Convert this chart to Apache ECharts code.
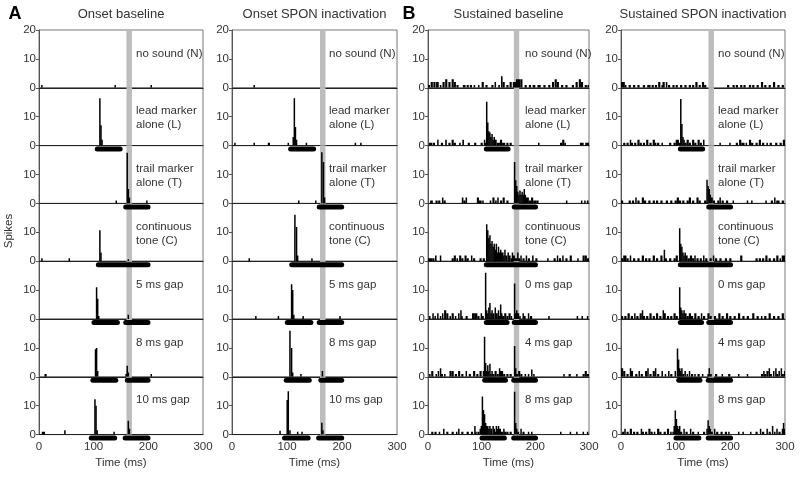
<!DOCTYPE html>
<html>
<head>
<meta charset="utf-8">
<script src="https://cdn.jsdelivr.net/npm/echarts@6/dist/echarts.min.js"></script>
<style>
html, body { margin: 0; padding: 0; background: #fff; }
#chart { width: 800px; height: 477px; }
</style>
</head>
<body>
<div id="chart"></div>
<script>
// histogram bins: [start ms, end ms, spikes], one array per row (N, L, T, C, gap rows)
const onsetBaseline = [
  [[4,6,1],[138,140,1],[204,206,1]],
  [[110,112,16.4],[112,114,7],[114,116,2]],
  [[140,142,1],[160,162,17.5],[162,164,5],[164,166,2],[196,198,1]],
  [[4,6,1],[54,56,1],[110,112,10.7],[112,114,3],[162,164,0.7]],
  [[104,106,11],[106,108,7],[108,110,1],[162,164,1.5]],
  [[10,14,1],[102,104,9.5],[104,106,10],[106,108,2],[158,160,1],[160,162,3.8],[162,164,1.5],[204,206,1]],
  [[5,11,1],[46,48,1.5],[101,103,12.2],[103,105,10],[105,107,1.5],[136,138,1],[162,164,4.8],[164,166,2]]
];
const onsetSpon = [
  [[39,41,1]],
  [[4,6,1],[39,41,1],[65,69,1],[101,103,1],[110,112,3],[112,114,16.4],[114,116,6.4],[116,118,2],[134,136,1],[223,225,1],[233,235,1]],
  [[120,122,1],[151,153,1],[162,164,17.7],[165,167,14.3],[167,169,2]],
  [[30,32,1],[113,115,16.1],[116,118,11.8],[118,120,2],[144,146,1]],
  [[42,44,1],[83,85,1],[107,109,12],[109,111,10],[111,113,1.5],[128,130,1],[195,197,1]],
  [[104,106,15.9],[107,109,10],[109,111,1.5],[124,126,1],[163,165,2]],
  [[86,88,1.3],[99,101,12],[101,103,15],[104,106,1.5],[118,120,1],[126,128,1],[162,164,4.1],[164,166,1.5]]
];
const sustainedBaseline = [
  [[0,4,1],[5,9,2],[10,14,2],[15,20,2],[22,25,1],[27,31,2],[32,36,3],[38,42,2],[44,48,3],[48,52,2],[53,57,1],[65,70,1],[72,76,1],[78,82,1],[85,88,1],[93,96,1],[100,104,2],[107,111,1],[118,122,1],[124,126,2],[131,134,1],[136,139,4],[139,143,2],[146,150,1],[152,156,2],[158,164,2],[164,172,3],[172,176,3],[180,184,1],[188,192,1],[195,200,1],[204,210,1],[215,219,1],[224,228,1],[231,235,2],[236,240,3],[240,244,2],[248,252,1],[256,260,1],[268,272,1],[275,279,2],[281,285,3],[285,289,2],[292,296,1],[297,300,1]],
  [[2,8,1],[9,13,1],[17,19,2],[24,28,1],[32,35,2],[38,42,1],[44,48,2],[48,52,1],[58,61,1],[64,67,2],[74,78,1],[86,90,1],[98,102,1],[104,106,2],[106,108,1],[108,110,15.2],[110,112,8],[112,114,5],[114,116,4.5],[116,118,3],[118,120,4],[120,122,2],[122,124,3],[124,128,2],[128,134,1],[134,138,2],[138,144,1],[146,150,1],[152,156,1],[205,207,1],[246,250,1],[250,254,2],[254,257,1],[283,290,1],[293,300,1]],
  [[4,9,1],[14,18,1],[19,23,1],[26,28,2],[29,33,1],[63,66,2],[66,70,1],[70,72,2],[91,95,2],[95,100,1],[101,103,1],[115,118,1],[120,124,2],[125,128,1],[129,131,2],[134,138,1],[139,143,2],[146,150,1],[160,162,14.3],[162,164,8],[164,166,6],[166,168,4],[168,170,3],[170,172,4.5],[172,174,3],[174,176,4],[176,178,3],[178,180,5],[180,182,3],[182,184,2],[184,188,2],[188,192,1],[192,196,2],[196,202,1],[202,206,1],[257,259,1],[285,287,1],[291,293,1],[296,299,1]],
  [[0,8,1],[8,12,1],[13,16,2],[22,24,2],[44,48,1],[48,52,2],[53,56,1],[58,62,2],[62,66,1],[68,72,2],[72,76,1],[80,82,2],[84,88,1],[96,100,1],[102,106,1],[108,110,12.8],[110,112,10.7],[112,114,8],[114,116,9],[116,118,6],[118,120,7],[120,122,5],[122,124,6],[124,126,4],[126,128,6],[128,130,3],[130,132,5],[132,134,3],[134,136,4],[136,138,3],[138,140,3],[140,142,2],[142,144,4],[144,148,2],[148,150,3],[150,154,2],[154,156,1],[156,158,3],[158,162,2],[162,166,1],[166,168,3],[168,172,1],[172,174,2],[176,180,1],[182,184,2],[186,190,1],[194,196,2],[200,204,1],[222,224,1],[234,238,1],[240,242,2],[244,248,1],[250,252,2],[256,260,1],[264,268,2],[278,280,1],[288,292,2],[292,296,2],[296,300,1]],
  [[2,4,1],[8,10,2],[12,14,1],[17,19,2],[22,24,1],[26,28,2],[30,34,3],[34,38,2],[40,42,1],[44,48,2],[50,52,1],[56,58,2],[60,62,3],[62,64,1],[70,74,1],[82,86,2],[86,92,2],[92,96,1],[98,100,2],[100,104,1],[106,108,16],[108,110,3],[110,112,2],[112,114,4],[114,116,5.5],[116,118,2],[118,120,3],[120,124,2],[124,126,4],[126,130,2],[130,132,3],[132,134,1],[134,136,5],[136,138,2],[138,142,1],[142,146,2],[146,150,1],[150,154,2],[154,156,1],[160,162,12.3],[162,164,2],[164,166,3],[166,170,2],[170,172,1],[176,178,2],[178,182,1],[186,188,2],[190,194,1],[224,226,1],[277,279,1],[286,288,1],[296,298,1]],
  [[2,4,1],[6,10,2],[14,16,1],[18,20,2],[22,24,3],[24,28,1],[30,32,1],[40,44,2],[44,48,2],[50,54,1],[56,60,2],[62,66,1],[70,72,2],[76,80,1],[84,88,2],[90,94,1],[96,100,2],[102,104,2],[104,106,13.9],[106,108,4.8],[108,110,2],[110,112,4],[112,114,2],[114,116,4.5],[116,118,1],[118,120,2],[120,124,1],[124,128,2],[128,132,1],[132,134,3],[134,136,2],[136,140,2],[140,144,1],[146,150,1],[152,156,1],[160,162,10.7],[162,164,3],[164,168,1],[168,172,2],[172,176,1],[180,182,1],[186,188,1],[192,194,2.5],[196,198,1],[252,254,1],[262,266,1],[276,278,1],[288,292,1],[292,296,2],[296,300,1]],
  [[6,10,1],[12,16,1],[20,22,1],[28,30,2],[34,38,1],[44,48,1],[52,54,1],[56,58,2],[62,66,1],[72,76,1],[80,84,1],[86,88,3],[88,90,1],[92,96,1],[96,98,2],[98,100,3],[100,102,13.2],[102,104,8.5],[104,106,7],[106,108,4],[108,110,3],[110,112,3],[112,114,2],[114,116,3],[116,120,2],[120,122,3],[122,124,2],[124,126,1],[126,128,3],[128,130,2],[130,132,3],[132,136,2],[136,140,1],[140,142,2],[142,146,1],[146,150,1],[152,156,1],[160,162,14.8],[162,164,4],[164,166,2],[166,170,1],[172,174,2],[176,180,1],[186,188,1],[192,194,1],[246,248,1],[264,266,1],[276,278,1],[288,290,1],[296,298,1]]
];
const sustainedSpon = [
  [[0,7,2],[7,10,1],[14,18,1],[22,26,1],[30,34,1],[40,44,1],[48,54,1],[56,60,1],[62,66,1],[68,72,2],[74,76,1],[76,80,2],[82,84,2],[86,90,1],[94,98,1],[100,104,1],[108,112,1],[116,120,1],[124,128,1],[130,134,1],[136,140,2],[142,146,1],[148,152,2],[152,156,1],[194,198,1],[204,208,1],[210,214,1],[218,222,1],[224,228,1],[234,238,1],[240,244,1],[248,252,1],[256,260,2],[262,266,1],[270,274,1],[278,282,2],[286,290,1],[294,298,1]],
  [[4,8,1],[10,14,1],[16,18,2],[18,22,1],[24,28,1],[30,34,2],[34,38,1],[40,44,1],[46,50,2],[52,56,1],[58,62,2],[62,64,1],[66,70,1],[74,76,1],[88,92,1],[96,100,1],[100,106,2],[106,108,1],[108,110,16.1],[110,112,7.5],[112,114,3],[114,116,2],[116,120,1],[120,124,2],[124,128,1],[130,134,2],[134,138,1],[140,144,2],[144,148,1],[150,152,2],[180,182,1],[198,200,1],[210,214,1],[216,220,2],[220,226,1],[228,230,1],[234,238,2],[238,242,1],[246,250,1],[252,256,2],[258,262,1],[266,268,1],[272,276,1],[282,286,1],[290,294,1],[296,300,2]],
  [[0,4,1],[14,18,1],[20,24,1],[26,28,2],[30,34,1],[38,42,2],[42,46,1],[50,54,1],[58,62,1],[64,68,1],[72,76,1],[82,86,1],[90,94,1],[98,102,1],[102,106,2],[106,110,1],[112,116,1],[120,124,1],[124,128,2],[130,134,1],[138,142,2],[142,146,1],[152,156,1],[156,158,8.2],[158,160,6],[160,162,5],[162,164,3],[164,168,2],[168,172,1],[176,180,1],[180,182,2],[184,188,1],[192,196,1],[204,206,1],[230,232,1],[238,240,1],[264,266,1],[274,278,1],[280,282,2],[284,290,1],[294,298,1]],
  [[0,4,1],[4,10,2],[10,14,1],[16,18,2],[22,26,1],[30,34,1],[38,42,2],[44,48,1],[50,54,1],[58,62,2],[64,68,1],[72,76,2],[78,80,4],[80,84,1],[88,92,1],[96,100,1],[100,104,2],[106,108,11.4],[108,110,6],[110,112,5],[112,114,3],[114,116,2],[116,118,3],[118,122,2],[122,126,1],[126,130,2],[130,134,1],[134,136,2],[138,142,1],[144,148,1],[150,152,2],[154,158,1],[162,166,1],[168,170,2],[172,176,1],[180,184,1],[190,194,1],[198,202,1],[218,222,2],[246,250,1],[252,256,1],[258,262,1],[264,268,2],[270,274,1],[278,282,1],[284,288,2],[290,292,1],[294,300,2]],
  [[0,4,1],[6,10,1],[12,16,2],[18,22,1],[24,26,2],[28,32,1],[34,38,2],[38,40,3],[40,44,1],[46,50,1],[52,56,2],[58,62,1],[64,68,2],[70,74,1],[76,78,3],[78,82,2],[84,88,1],[90,94,1],[96,100,2],[100,104,1],[106,108,11],[108,110,4],[110,112,3],[112,114,2],[114,116,3],[116,120,2],[120,124,1],[124,128,2],[128,132,1],[134,138,2],[140,144,1],[146,148,2],[150,154,1],[158,162,2],[162,166,1],[170,174,1],[178,182,2],[184,188,1],[192,196,2],[198,202,1],[206,210,1],[214,218,2],[222,226,1],[230,234,1],[240,244,2],[248,252,1],[256,258,1],[262,266,1],[270,274,2],[278,282,1],[286,290,1],[294,298,2]],
  [[0,4,3],[4,8,2],[10,14,1],[16,18,3],[18,22,2],[26,30,1],[32,34,2],[36,40,1],[44,48,2],[48,50,3],[52,56,1],[58,62,2],[62,64,3],[66,70,1],[74,76,2],[80,82,1],[86,88,2],[90,94,1],[98,100,2],[102,104,9.8],[104,106,6],[106,108,3],[108,110,2],[110,112,3],[112,116,1],[116,118,2],[120,122,1],[124,126,2],[128,132,1],[134,136,1],[140,144,1],[148,150,1],[158,160,1],[160,162,3],[162,166,1],[172,176,1],[184,186,1],[196,200,1],[214,216,1],[230,232,1],[256,260,1],[260,262,2],[262,266,1],[266,270,2],[270,272,3],[272,276,1],[278,280,2],[282,284,3],[284,288,1],[288,290,2],[292,294,3],[294,298,1],[298,300,2]],
  [[2,6,1],[6,8,2],[10,14,1],[16,20,2],[22,26,1],[28,32,1],[36,38,2],[38,42,1],[44,48,1],[50,54,2],[54,58,1],[60,62,1],[66,70,2],[70,74,1],[78,82,1],[84,88,2],[90,92,1],[94,96,1],[96,98,3],[98,100,8.3],[100,102,5.4],[102,104,3],[104,106,2],[106,108,3],[108,112,1],[114,116,2],[118,122,1],[126,128,2],[130,134,1],[140,142,1],[150,154,1],[156,158,2],[158,160,5],[160,162,3],[162,164,2],[164,168,1],[170,172,2],[174,178,1],[182,186,1],[190,194,1],[196,198,1],[214,216,1],[222,224,1],[236,238,1],[246,250,1],[254,256,2],[258,262,1],[266,268,2],[270,274,1],[276,278,3],[280,282,1],[284,286,2],[288,292,1],[294,296,2],[296,298,4],[298,300,2]]
];

// stimulus markers under each row: [start ms, end ms]
const stimOnset = [[], [[102,153]], [[154,204]], [[104,204]], [[96,148],[154,204]], [[94,145],[157,204]], [[91,143],[153,204]]];
const stimSustained = [[], [[104,154]], [[156,205]], [[104,205]], [[104,152],[156,205]], [[101,149],[155,205]], [[96,147],[155,205]]];

const grayBand = [[160, 170]];
const rowLabelsOnset = ['no sound (N)', 'lead marker\nalone (L)', 'trail marker\nalone (T)', 'continuous\ntone (C)', '5 ms gap', '8 ms gap', '10 ms gap'];
const rowLabelsSustained = ['no sound (N)', 'lead marker\nalone (L)', 'trail marker\nalone (T)', 'continuous\ntone (C)', '0 ms gap', '4 ms gap', '8 ms gap'];
const columnTitles = ['Onset baseline', 'Onset SPON inactivation', 'Sustained baseline', 'Sustained SPON inactivation'];
const timeTicks = [0, 100, 200, 300];
const spikeTicks = [0, 10, 20];

const font = 'Liberation Sans, Arial, sans-serif';
const txt = '#333';
const colLeft = [39, 232, 428, 621];
const colWidth = [164, 165, 161, 164];
const plotTop = 30;
const rowH = 57.8;

const columns = [
  { data: onsetBaseline, stim: stimOnset, labels: rowLabelsOnset },
  { data: onsetSpon, stim: stimOnset, labels: rowLabelsOnset },
  { data: sustainedBaseline, stim: stimSustained, labels: rowLabelsSustained },
  { data: sustainedSpon, stim: stimSustained, labels: rowLabelsSustained }
];

function histItem (params, api) {
  const a = api.coord([api.value(0), 0]);
  const b = api.coord([api.value(1), api.value(2)]);
  // narrow bins read as solid black lines in the print, so keep them at least 1.5px
  return {
    type: 'rect',
    shape: { x: a[0], y: b[1], width: Math.max(b[0] - a[0], 1.5), height: a[1] - b[1] },
    style: { fill: '#000' }
  };
}
function bandItem (params, api) {
  const a = api.coord([api.value(0), spikeTicks[2]]);
  const b = api.coord([api.value(1), 0]);
  return {
    type: 'rect',
    shape: { x: a[0], y: a[1], width: b[0] - a[0], height: b[1] - a[1] },
    style: { fill: '#bdbdbd' }
  };
}
function stimItem (params, api) {
  const a = api.coord([api.value(0), 0]);
  const b = api.coord([api.value(1), 0]);
  return {
    type: 'rect',
    shape: { x: a[0], y: a[1] + 1, width: b[0] - a[0], height: 5, r: 2.5 },
    style: { fill: '#000' }
  };
}

const grid = [], xAxis = [], yAxis = [], series = [], graphic = [];

columns.forEach((col, c) => {
  for (let r = 0; r < 7; r++) {
    const idx = c * 7 + r;
    const top = plotTop + r * rowH;
    const last = r === 6;
    grid.push({
      left: colLeft[c], top: top, width: colWidth[c], height: rowH,
      show: true, borderColor: '#777', borderWidth: 1
    });
    xAxis.push({
      gridIndex: idx, type: 'value', min: timeTicks[0], max: timeTicks[3], interval: 100,
      axisLine: { lineStyle: { color: '#222' } },
      axisTick: { show: false },
      splitLine: { show: false },
      axisLabel: { show: last, fontSize: 11.5, color: txt, fontFamily: font, margin: 6 },
      name: last ? 'Time (ms)' : '',
      nameLocation: 'middle', nameGap: 22,
      nameTextStyle: { fontSize: 11.5, color: txt, fontFamily: font }
    });
    yAxis.push({
      gridIndex: idx, type: 'value', min: spikeTicks[0], max: spikeTicks[2], interval: 10,
      axisLine: { show: true, lineStyle: { color: '#555' } },
      axisTick: { show: true, length: 3, lineStyle: { color: '#555' } },
      splitLine: { show: false },
      axisLabel: { fontSize: 11.5, color: txt, fontFamily: font, margin: 3, showMaxLabel: r === 0 }
    });
    series.push({
      type: 'custom', xAxisIndex: idx, yAxisIndex: idx, z: 1, silent: true,
      renderItem: bandItem, encode: { x: [0, 1] }, data: grayBand
    });
    series.push({
      type: 'custom', xAxisIndex: idx, yAxisIndex: idx, z: 2, silent: true, clip: true,
      renderItem: histItem, encode: { x: [0, 1], y: 2 }, data: col.data[r]
    });
    if (col.stim[r].length) {
      series.push({
        type: 'custom', xAxisIndex: idx, yAxisIndex: idx, z: 3, silent: true, clip: false,
        renderItem: stimItem, encode: { x: [0, 1] }, data: col.stim[r]
      });
    }
    const twoLine = col.labels[r].indexOf('\n') >= 0;
    graphic.push({
      type: 'text', left: colLeft[c] + 97, top: top + (twoLine ? 16 : 16.5), z: 10,
      style: { text: col.labels[r], fontSize: 11.5, lineHeight: 14, fill: txt, fontFamily: font }
    });
  }
  graphic.push({
    type: 'text', x: colLeft[c] + colWidth[c] / 2, y: 14, z: 10,
    style: { text: columnTitles[c], fontSize: 13, fill: txt, fontFamily: font, align: 'center', verticalAlign: 'middle' }
  });
});

graphic.push({
  type: 'text', x: 15, y: 14,
  style: { text: 'A', fontSize: 18, fontWeight: 'bold', fill: '#000', fontFamily: font, align: 'center', verticalAlign: 'middle' }
});
graphic.push({
  type: 'text', x: 409, y: 14,
  style: { text: 'B', fontSize: 18, fontWeight: 'bold', fill: '#000', fontFamily: font, align: 'center', verticalAlign: 'middle' }
});
graphic.push({
  type: 'text', x: 9, y: 231, rotation: Math.PI / 2,
  style: { text: 'Spikes', fontSize: 11.5, fill: txt, fontFamily: font, align: 'center', verticalAlign: 'middle' }
});

const myChart = echarts.init(document.getElementById('chart'), null, { renderer: 'canvas' });
myChart.setOption({
  animation: false,
  backgroundColor: '#fff',
  grid: grid,
  xAxis: xAxis,
  yAxis: yAxis,
  series: series,
  graphic: graphic
});
</script>
</body>
</html>
